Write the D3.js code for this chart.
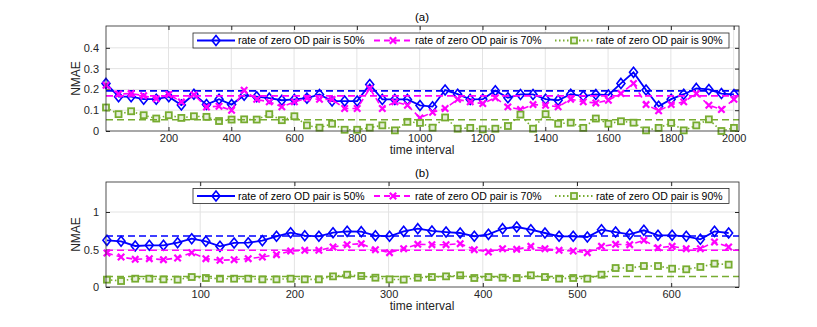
<!DOCTYPE html>
<html>
<head>
<meta charset="utf-8">
<script src="https://cdn.jsdelivr.net/npm/d3@7"></script>
<style>
  body { margin: 0; background: #fff; }
  svg { font-family: "Liberation Sans", Arial, sans-serif; }
</style>
</head>
<body>
<div class="body"></div>
<script>
// panel (a): one point every 40 intervals, 1..2001
const stepA = 40;
const ticksA = [200, 400, 600, 800, 1000, 1200, 1400, 1600, 1800, 2000];
const yTicksA = [0, 0.1, 0.2, 0.3, 0.4];
const rate50a = [0.229,0.165,0.165,0.153,0.153,0.165,0.125,0.177,0.127,0.153,0.127,0.172,0.165,0.158,0.148,0.152,0.158,0.176,0.144,0.144,0.144,0.224,0.152,0.152,0.152,0.123,0.117,
  0.197,0.177,0.152,0.153,0.194,0.16,0.176,0.176,0.153,0.148,0.177,0.168,0.176,0.173,0.229,0.282,0.197,0.119,0.153,0.177,0.205,0.2,0.18,0.176];
const rate70a = [0.22,0.178,0.18,0.17,0.155,0.176,0.14,0.175,0.115,0.119,0.1,0.196,0.152,0.14,0.116,0.14,0.158,0.152,0.152,0.108,0.108,0.205,0.108,0.14,0.124,0.063,0.09,
  0.108,0.152,0.14,0.132,0.16,0.116,0.103,0.127,0.124,0.116,0.153,0.14,0.135,0.148,0.18,0.229,0.127,0.097,0.127,0.14,0.18,0.124,0.103,0.152];
const rate90a = [0.113,0.081,0.095,0.076,0.06,0.076,0.063,0.071,0.068,0.048,0.055,0.056,0.055,0.081,0.052,0.071,0.027,0.016,0.035,0.006,0.006,0.016,0.027,0.003,0.044,0.039,0.016,
  0.065,0.011,0.015,0.008,0.011,0.024,0.079,0.011,0.081,0.035,0.04,0.015,0.06,0.035,0.047,0.04,0.003,0.015,0.039,0.003,0.027,0.056,0.0,0.015];
const meansA = [0.193, 0.169, 0.054];

// panel (b): one point every 15 intervals, 1..661
const stepB = 15;
const ticksB = [100, 200, 300, 400, 500, 600];
const yTicksB = [0, 0.5, 1];
const rate50b = [0.622,0.609,0.547,0.556,0.556,0.591,0.644,0.609,0.542,0.587,0.591,0.618,0.676,0.724,0.684,0.676,0.724,0.742,0.738,0.684,0.676,0.742,0.778,0.747,
  0.733,0.72,0.676,0.702,0.778,0.8,0.764,0.72,0.676,0.676,0.667,0.764,0.733,0.702,0.756,0.689,0.689,0.676,0.636,0.742,0.72];
const rate70b = [0.453,0.4,0.369,0.378,0.364,0.387,0.458,0.378,0.356,0.364,0.378,0.4,0.431,0.48,0.489,0.489,0.533,0.564,0.578,0.498,0.458,0.511,0.569,0.564,
  0.564,0.578,0.498,0.467,0.511,0.502,0.542,0.511,0.489,0.48,0.458,0.542,0.569,0.564,0.622,0.524,0.542,0.511,0.511,0.6,0.533];
const rate90b = [0.098,0.08,0.111,0.111,0.102,0.098,0.133,0.12,0.111,0.111,0.111,0.102,0.102,0.111,0.102,0.102,0.142,0.164,0.147,0.124,0.102,0.098,0.124,0.133,
  0.142,0.156,0.12,0.133,0.124,0.12,0.156,0.133,0.111,0.12,0.111,0.164,0.253,0.253,0.28,0.28,0.244,0.236,0.267,0.311,0.298];
const meansB = [0.68, 0.49, 0.14];

const legendLabels = ["rate of zero OD pair is 50%", "rate of zero OD pair is 70%", "rate of zero OD pair is 90%"];
const colors = ["#0000ff", "#ff00ff", "#77ac30"];
const dashes = [null, "6,4", "1.5,2.5"];
const markers = ["diamond", "cross", "square"];

const svg = d3.select(".body").append("svg").attr("width", 817).attr("height", 327);

function drawMarker(g, type, color) {
  if (type === "diamond") {
    g.append("path").attr("d", "M0,-5L4,0L0,5L-4,0Z")
      .attr("fill", "none").attr("stroke", color).attr("stroke-width", 1.6);
  } else if (type === "cross") {
    g.append("path").attr("d", "M-3.2,-3.2L3.2,3.2M-3.2,3.2L3.2,-3.2")
      .attr("stroke", color).attr("stroke-width", 2.2);
  } else {
    g.append("rect").attr("x", -3).attr("y", -3).attr("width", 6).attr("height", 6)
      .attr("fill", "#e6efdc").attr("stroke", color).attr("stroke-width", 1.8);
  }
}

function panel(cfg) {
  const x = d3.scaleLinear().domain(cfg.xDomain).range([106, 739]);
  const y = d3.scaleLinear().domain(cfg.yDomain).range([cfg.bottom, cfg.top]);
  const g = svg.append("g");

  // grid
  g.selectAll(".gx").data(cfg.xTicks).enter().append("line")
    .attr("x1", d => x(d)).attr("x2", d => x(d))
    .attr("y1", cfg.top).attr("y2", cfg.bottom)
    .attr("stroke", "#e3e3e3").attr("stroke-width", 1);
  g.selectAll(".gy").data(cfg.yGrid).enter().append("line")
    .attr("x1", x.range()[0]).attr("x2", x.range()[1])
    .attr("y1", d => y(d)).attr("y2", d => y(d))
    .attr("stroke", "#e3e3e3").attr("stroke-width", 1);

  // axes with inward ticks (box on)
  const ax = (axis, tr) => {
    const a = g.append("g").attr("transform", tr).call(axis);
    a.select(".domain").remove();
    a.selectAll("line").attr("stroke", "#262626");
    a.selectAll("text").attr("fill", "#262626").attr("font-size", 11);
    return a;
  };
  ax(d3.axisBottom(x).tickValues(cfg.xTicks).tickSizeInner(-4).tickPadding(3).tickFormat(d3.format("d")),
     `translate(0,${cfg.bottom})`);
  ax(d3.axisTop(x).tickValues(cfg.xTicks).tickSizeInner(-4).tickFormat(""), `translate(0,${cfg.top})`);
  ax(d3.axisLeft(y).tickValues(cfg.yTicks).tickSizeInner(-4).tickPadding(7).tickFormat(d => d3.format("")(d)),
     "translate(106,0)");
  ax(d3.axisRight(y).tickValues(cfg.yTicks).tickSizeInner(-4).tickFormat(""), "translate(739,0)");

  // series
  cfg.series.forEach((vals, i) => {
    const pts = vals.map((v, k) => [1 + k * cfg.step, v]);
    const line = d3.line().x(d => x(d[0])).y(d => y(d[1]));
    g.append("path").datum(pts).attr("d", line)
      .attr("fill", "none").attr("stroke", colors[i])
      .attr("stroke-width", i === 0 ? 1.8 : 1.6)
      .attr("stroke-dasharray", dashes[i]);
    pts.forEach(p => {
      const m = g.append("g").attr("transform", `translate(${x(p[0])},${y(p[1])})`);
      drawMarker(m, markers[i], colors[i]);
    });
    // mean line
    g.append("line")
      .attr("x1", x.range()[0]).attr("x2", x.range()[1])
      .attr("y1", y(cfg.means[i])).attr("y2", y(cfg.means[i]))
      .attr("stroke", colors[i]).attr("stroke-width", 1.6).attr("stroke-dasharray", "7,4");
  });

  // box
  g.append("rect").attr("x", 106).attr("y", cfg.top).attr("width", 633).attr("height", cfg.bottom - cfg.top)
    .attr("fill", "none").attr("stroke", "#262626").attr("stroke-width", 0.8);

  // labels
  g.append("text").attr("x", 422).attr("y", cfg.top - 5).attr("text-anchor", "middle")
    .attr("font-size", 11.5).attr("fill", "#000").text(cfg.title);
  g.append("text").attr("x", 422).attr("y", cfg.bottom + 23).attr("text-anchor", "middle")
    .attr("font-size", 12).attr("fill", "#262626").text("time interval");
  g.append("text").attr("transform", `translate(80,${(cfg.top + cfg.bottom) / 2}) rotate(-90)`)
    .attr("text-anchor", "middle").attr("font-size", 12).attr("fill", "#262626").text("NMAE");

  // legend
  const ly = cfg.legendY;
  g.append("rect").attr("x", 193).attr("y", ly).attr("width", 536).attr("height", 15)
    .attr("fill", "#fff").attr("stroke", "#262626").attr("stroke-width", 0.8);
  const lx = [197, 374, 555];
  legendLabels.forEach((lab, i) => {
    g.append("line").attr("x1", lx[i]).attr("x2", lx[i] + 38).attr("y1", ly + 7.5).attr("y2", ly + 7.5)
      .attr("stroke", colors[i]).attr("stroke-width", 1.8).attr("stroke-dasharray", dashes[i]);
    drawMarker(g.append("g").attr("transform", `translate(${lx[i] + 19},${ly + 7.5})`), markers[i], colors[i]);
    g.append("text").attr("x", lx[i] + 41).attr("y", ly + 11.3).attr("font-size", 10.5)
      .attr("fill", "#000").text(lab);
  });
}

panel({
  title: "(a)", top: 26, bottom: 131, xDomain: [1, 2017], yDomain: [0, 0.505],
  xTicks: ticksA, yTicks: yTicksA, yGrid: [0.1, 0.2, 0.3, 0.4], step: stepA,
  series: [rate50a, rate70a, rate90a], means: meansA, legendY: 33
});
panel({
  title: "(b)", top: 182, bottom: 287, xDomain: [0, 672], yDomain: [0, 1.4],
  xTicks: ticksB, yTicks: yTicksB, yGrid: [0.5, 1], step: stepB,
  series: [rate50b, rate70b, rate90b], means: meansB, legendY: 188.5
});
</script>
</body>
</html>
